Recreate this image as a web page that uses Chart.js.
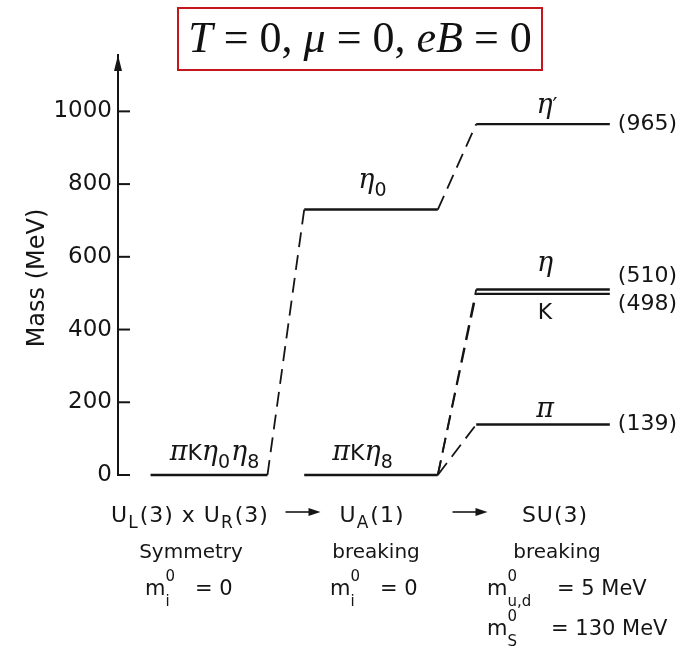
<!DOCTYPE html>
<html>
<head>
<meta charset="utf-8">
<script src="https://cdn.jsdelivr.net/npm/chart.js@4.4.1/dist/chart.umd.min.js"></script>
<style>
  body { margin: 0; background: #fff; }
  #wrap { position: relative; width: 700px; height: 654px; }
  #headline {
    position: absolute; left: 177px; top: 7px; width: 366px; height: 64px;
    box-sizing: border-box; border: 2px solid #c4161c;
    font: 44px "Liberation Serif", "Times New Roman", serif; color: #111;
    text-align: center; line-height: 58px; white-space: nowrap;
  }
</style>
</head>
<body>
<div id="wrap">
  <canvas id="massChart" width="700" height="654"></canvas>
  <div id="headline"><i>T</i> = 0, <i>μ</i> = 0, <i>eB</i> = 0</div>
</div>
<script>
// pseudoscalar meson masses through the chiral symmetry breaking steps
const stageGroup = ['U_{L}(3) x U_{R}(3)', 'U_{A}(1)', 'SU(3)'];
const stageRole = ['Symmetry', 'breaking', 'breaking'];
const stageQuark = [['m^{0}_{i} = 0'], ['m^{0}_{i} = 0'], ['m^{0}_{u,d} = 5 MeV', 'm^{0}_{S} = 130 MeV']];

const levelName = ['πKη_{0}η_{8}', 'πKη_{8}', 'η_{0}', 'η′', 'η', 'K', 'π'];
const levelStage = [0, 1, 1, 2, 2, 2, 2];
const levelMass = [0, 0, 730, 965, 510, 498, 139];

// dashed lines: which level feeds which
const linkFrom = [0, 2, 1, 1, 1];
const linkTo = [2, 3, 4, 5, 6];

const yTicks = [0, 200, 400, 600, 800, 1000];

// layout only
const stageSpan = [[-0.35, 0.35], [-0.43, 0.37], [-0.40, 0.40]];
const nameDx = [6, -8, 2, 4, 2, 2, 2];
const nameDy = [-15, -15, -22, -11, -19, 25, -7];
const valueDy = [0, 0, 0, 0, -13, 10, 0];
const groupDx = [-19, -4, 12];
const roleDx = [-18, 0, 14];
const quarkLeft = [-64, -46, -56];
const quarkEq = [[-14], [4], [14, 8]];

const SANS = '"DejaVu Sans", sans-serif';
const INK = '#151515';

function richTokens(str) {
  const out = [];
  let i = 0;
  while (i < str.length) {
    const c = str[i];
    if ((c === '_' || c === '^') && str[i + 1] === '{') {
      const end = str.indexOf('}', i);
      const txt = str.slice(i + 2, end);
      const key = c === '_' ? 'sub' : 'sup';
      const last = out[out.length - 1];
      if (last && last.stack && last[key] === undefined) last[key] = txt;
      else out.push({ stack: true, [key]: txt });
      i = end + 1;
    } else {
      const greek = /[\u0370-\u03ff]/.test(c);
      const last = out[out.length - 1];
      if (last && last.text !== undefined && !greek && !last.greek) last.text += c;
      else out.push({ text: c, greek: greek });
      i++;
    }
  }
  return out;
}

function drawRich(ctx, str, x, y, o, align) {
  const tokens = richTokens(str);
  const small = o.small + 'px ' + SANS;
  const fontFor = t => t.greek ? 'italic ' + o.greek + 'px "DejaVu Serif", serif' : o.size + 'px ' + SANS;
  ctx.letterSpacing = (o.spacing || 0) + 'px';
  let w = 0;
  tokens.forEach(t => {
    if (t.stack) {
      ctx.font = small;
      t.w = Math.max(t.sub ? ctx.measureText(t.sub).width : 0, t.sup ? ctx.measureText(t.sup).width : 0) + 1;
    } else {
      ctx.font = fontFor(t);
      t.w = ctx.measureText(t.text).width;
    }
    w += t.w;
  });
  let cx = align === 'center' ? x - w / 2 : align === 'right' ? x - w : x;
  ctx.textAlign = 'left';
  ctx.textBaseline = 'alphabetic';
  tokens.forEach(t => {
    if (t.stack) {
      ctx.font = small;
      if (t.sup) ctx.fillText(t.sup, cx, y + o.supDy);
      if (t.sub) ctx.fillText(t.sub, cx, y + o.subDy);
    } else {
      ctx.font = fontFor(t);
      ctx.fillText(t.text, cx, y);
    }
    cx += t.w;
  });
  ctx.letterSpacing = '0px';
}

const levelStyle = { size: 22, greek: 27, small: 19, subDy: 8, supDy: -13 };
const groupStyle = { size: 22, greek: 22, small: 17, subDy: 6, supDy: -10, spacing: 1 };
const quarkStyle = { size: 21, greek: 22, small: 15, subDy: 11, supDy: -14 };

function drawArrow(ctx, x0, x1, y) {
  ctx.beginPath();
  ctx.moveTo(x0, y);
  ctx.lineTo(x1 - 8, y);
  ctx.lineWidth = 1.6;
  ctx.stroke();
  ctx.beginPath();
  ctx.moveTo(x1, y);
  ctx.lineTo(x1 - 12, y - 4);
  ctx.lineTo(x1 - 12, y + 4);
  ctx.closePath();
  ctx.fill();
}

const diagramText = {
  id: 'diagramText',
  afterDraw(chart) {
    const ctx = chart.ctx;
    const xs = chart.scales.x, ys = chart.scales.y;
    const area = chart.chartArea;
    ctx.save();
    ctx.fillStyle = INK;
    ctx.strokeStyle = INK;

    // arrow head on the mass axis and inward tick marks
    ctx.beginPath();
    ctx.moveTo(area.left, area.top);
    ctx.lineTo(area.left - 4, area.top + 16);
    ctx.lineTo(area.left + 4, area.top + 16);
    ctx.closePath();
    ctx.fill();
    ctx.lineWidth = 2;
    yTicks.forEach(v => {
      const py = ys.getPixelForValue(v);
      ctx.beginPath();
      ctx.moveTo(area.left, py);
      ctx.lineTo(area.left + 12, py);
      ctx.stroke();
    });

    // axis title
    ctx.save();
    ctx.translate(38, 278);
    ctx.rotate(-Math.PI / 2);
    ctx.font = '24px ' + SANS;
    ctx.textAlign = 'center';
    ctx.textBaseline = 'middle';
    ctx.fillText('Mass (MeV)', 0, 0);
    ctx.restore();

    // level names and measured masses
    levelName.forEach((name, i) => {
      const s = levelStage[i];
      const mid = xs.getPixelForValue(s + (stageSpan[s][0] + stageSpan[s][1]) / 2);
      const py = ys.getPixelForValue(levelMass[i]);
      drawRich(ctx, name, mid + nameDx[i], py + nameDy[i], levelStyle, 'center');
      if (s === 2) {
        ctx.font = '22px ' + SANS;
        ctx.textAlign = 'left';
        ctx.textBaseline = 'middle';
        ctx.fillText('(' + levelMass[i] + ')', xs.getPixelForValue(s + stageSpan[s][1]) + 8, py + valueDy[i]);
      }
    });

    // stage captions under the axis
    stageGroup.forEach((g, s) => {
      const c = xs.getPixelForValue(s);
      drawRich(ctx, g, c + groupDx[s], 522, groupStyle, 'center');
      ctx.font = '20px ' + SANS;
      ctx.textAlign = 'center';
      ctx.textBaseline = 'alphabetic';
      ctx.fillText(stageRole[s], c + roleDx[s], 558);
      stageQuark[s].forEach((q, r) => {
        const parts = q.split(' = ');
        const yRow = 595 + r * 40;
        drawRich(ctx, parts[0], c + quarkLeft[s], yRow, quarkStyle, 'left');
        drawRich(ctx, '= ' + parts[1], c + quarkEq[s][r], yRow, quarkStyle, 'left');
      });
      if (s < stageGroup.length - 1) {
        const m = (c + xs.getPixelForValue(s + 1)) / 2;
        drawArrow(ctx, m - 7, m + 28, 512);
      }
    });
    ctx.restore();
  }
};

const datasets = [];
levelMass.forEach((m, i) => {
  const s = levelStage[i];
  datasets.push({
    data: [{ x: s + stageSpan[s][0], y: m }, { x: s + stageSpan[s][1], y: m }],
    borderColor: INK,
    borderWidth: 2.4
  });
});
linkFrom.forEach((a, k) => {
  const b = linkTo[k];
  const sa = levelStage[a], sb = levelStage[b];
  datasets.push({
    data: [{ x: sa + stageSpan[sa][1], y: levelMass[a] }, { x: sb + stageSpan[sb][0], y: levelMass[b] }],
    borderColor: INK,
    borderWidth: 1.8,
    borderDash: [15, 8]
  });
});

new Chart(document.getElementById('massChart'), {
  type: 'line',
  data: { datasets: datasets },
  options: {
    responsive: false,
    animation: false,
    devicePixelRatio: 1,
    layout: { padding: { left: 0, right: 0, top: 55, bottom: 179 } },
    elements: { point: { radius: 0 }, line: { tension: 0, fill: false } },
    datasets: { line: { clip: false } },
    plugins: { legend: { display: false }, tooltip: { enabled: false } },
    scales: {
      x: { type: 'linear', min: -0.545, max: 2.94, display: false },
      y: {
        type: 'linear',
        min: 0,
        max: 1155,
        afterFit(scale) { scale.width = 118; },
        afterBuildTicks(scale) { scale.ticks = yTicks.map(v => ({ value: v })); },
        grid: { drawOnChartArea: false, drawTicks: false },
        border: { display: true, color: INK, width: 2 },
        ticks: {
          padding: 6,
          color: INK,
          font: { family: 'DejaVu Sans', size: 23 },
          callback: v => String(v)
        }
      }
    }
  },
  plugins: [diagramText]
});
</script>
</body>
</html>
